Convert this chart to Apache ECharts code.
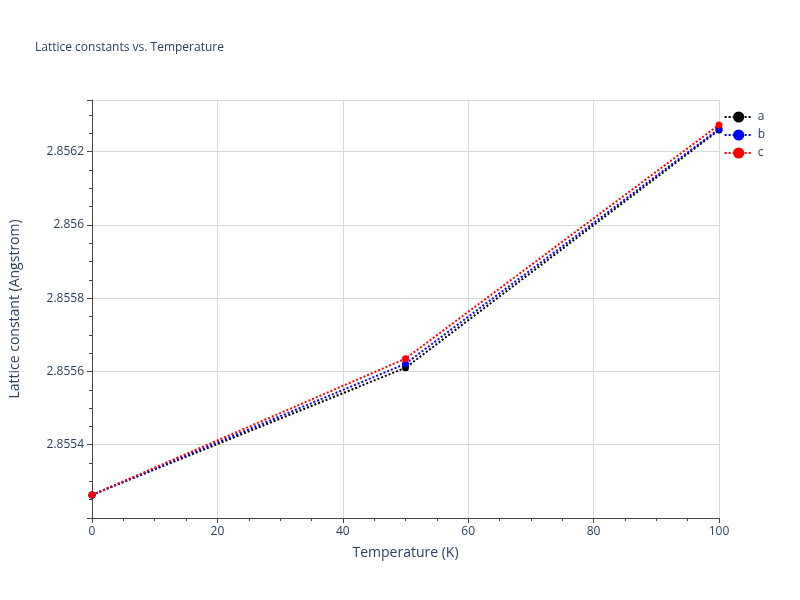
<!DOCTYPE html>
<html>
<head>
<meta charset="utf-8">
<script src="https://cdn.jsdelivr.net/npm/echarts@6/dist/echarts.min.js"></script>
<style>html,body{margin:0;padding:0;background:#fff}#chart{width:800px;height:600px}</style>
</head>
<body>
<div id="chart"></div>
<script>
var temps = [0, 50, 100];
var aVals = [2.85531, 2.855657, 2.856306];
var bVals = [2.85531, 2.855668, 2.856309];
var cVals = [2.85531, 2.855682, 2.85632];
var names = ['a', 'b', 'c'];
var colors = ['#000000', '#0000ff', '#ff0000'];

var myChart = echarts.init(document.getElementById('chart'));
var font = 'Open Sans, sans-serif';
function pairs(v){ return temps.map(function(t, i){ return [t, v[i]]; }); }
var series = [aVals, bVals, cVals].map(function(v, i){
    return {
        name: names[i], type: 'line', data: pairs(v),
        symbol: 'circle', symbolSize: 7,
        lineStyle: {type: 'dotted', width: 2, color: colors[i]},
        itemStyle: {color: colors[i]}
    };
});
var option = {
    animation: false,
    title: {text: 'Lattice constants vs. Temperature', left: 30, top: 37,
        textStyle: {fontFamily: font, fontSize: 12, fontWeight: 'normal', color: '#2a3f5f'}},
    legend: {orient: 'vertical', right: 30, top: 106, itemGap: 6, itemWidth: 28,
        data: names, textStyle: {fontFamily: font, fontSize: 12, color: '#2a3f5f'}},
    grid: {left: 88, right: 81, top: 100, bottom: 82},
    xAxis: {type: 'value', min: 0, max: 100, interval: 20,
        name: 'Temperature (K)', nameLocation: 'middle', nameGap: 28,
        nameTextStyle: {fontFamily: font, fontSize: 14, color: '#2a3f5f'},
        axisLine: {onZero: false, lineStyle: {color: '#444'}},
        axisTick: {show: true, length: 5, lineStyle: {color: '#444'}},
        minorTick: {show: true, splitNumber: 4, length: 3},
        axisLabel: {fontFamily: font, fontSize: 12, color: '#2a3f5f'},
        splitLine: {lineStyle: {color: '#d8d8d8'}}},
    yAxis: {type: 'value', min: 2.855247, max: 2.856388, interval: 0.0002,
        name: 'Lattice constant (Angstrom)', nameLocation: 'middle', nameGap: 70,
        nameTextStyle: {fontFamily: font, fontSize: 14, color: '#2a3f5f'},
        axisLine: {show: true, lineStyle: {color: '#444'}},
        axisTick: {show: true, length: 5, lineStyle: {color: '#444'}},
        minorTick: {show: true, splitNumber: 4, length: 3},
        axisLabel: {fontFamily: font, fontSize: 12, color: '#2a3f5f',
            showMinLabel: false, showMaxLabel: false,
            formatter: function(v){ return String(parseFloat(v.toFixed(4))); }},
        splitLine: {lineStyle: {color: '#d8d8d8'}}},
    series: series
};
myChart.setOption(option);
</script>
</body>
</html>
